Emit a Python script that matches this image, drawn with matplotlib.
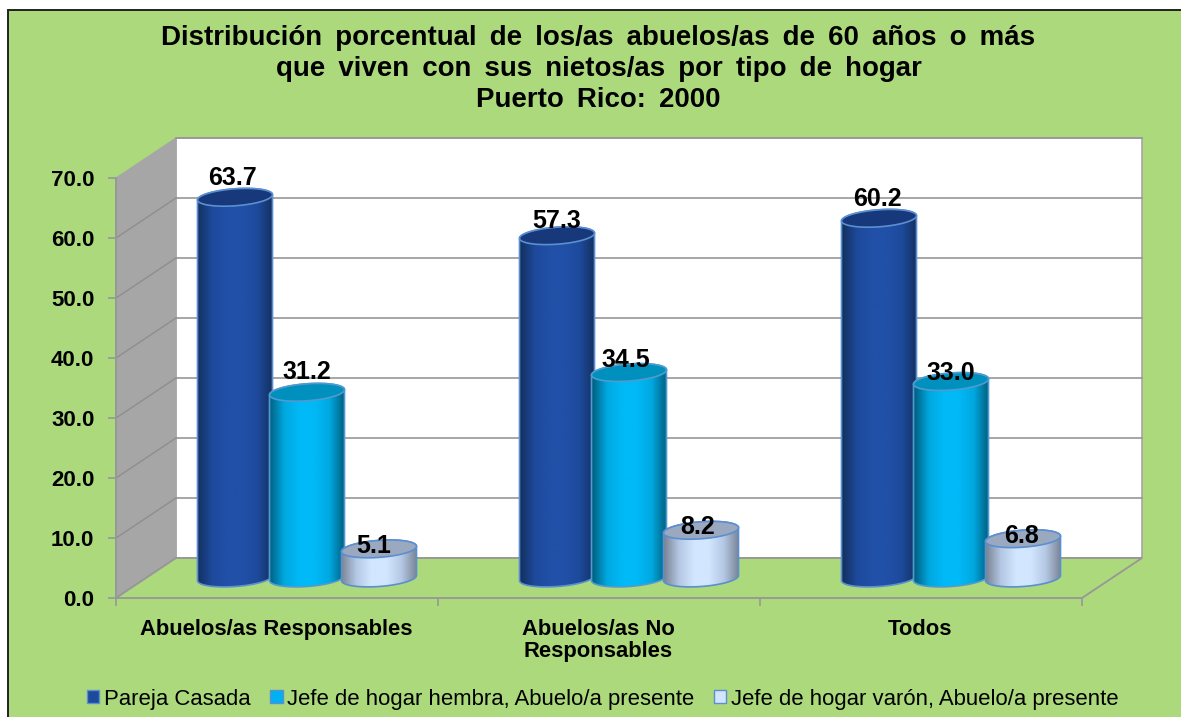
import numpy as np
import matplotlib
matplotlib.use('Agg')
import matplotlib.pyplot as plt
from matplotlib.colors import LinearSegmentedColormap
from matplotlib.patches import Polygon, PathPatch, Rectangle
from matplotlib.path import Path

plt.rcParams['font.family'] = ['Liberation Sans', 'DejaVu Sans']

title = ('Distribución \u2009porcentual \u2009de \u2009los/as \u2009abuelos/as \u2009de \u200960 \u2009años \u2009o \u2009más\n'
         'que \u2009viven \u2009con \u2009sus \u2009nietos/as \u2009por \u2009tipo \u2009de \u2009hogar\n'
         'Puerto \u2009Rico: \u20092000')
categories = ['Abuelos/as Responsables', 'Abuelos/as No\nResponsables', 'Todos']
series = ['Pareja Casada', 'Jefe de hogar hembra, Abuelo/a presente', 'Jefe de hogar varón, Abuelo/a presente']
casada = [63.7, 57.3, 60.2]
hembra = [31.2, 34.5, 33.0]
varon = [5.1, 8.2, 6.8]
ticks = [0, 10, 20, 30, 40, 50, 60, 70]

# label nudges in pixels from the middle of each cylinder top
nudge_x = [[-2, 0, -5], [0, -3, -3], [-2, 0, -1]]
nudge_y = [[19, 20, 3], [15, 12.5, 3], [19, 8.5, 3]]

W, H = 1181, 717
GREEN = '#ABD97B'
GRID = '#979797'
LEFT, RIGHT, BOTTOM, TOP = 116, 1082, 598, 178
PX_X = (RIGHT - LEFT) / 3
PX_Y = (BOTTOM - TOP) / 70
DEPTH_X = 60 / PX_X
DEPTH_Y = 40 / PX_Y

fig = plt.figure(figsize=(W / 100, H / 100), dpi=100, facecolor='white')
fig.add_artist(Rectangle((7.5 / W, -0.01), 1.02, 1 - 9.5 / H + 0.01, transform=fig.transFigure,
                         fc=GREEN, ec='#222222', lw=1.4, zorder=-1))
ax = fig.add_axes([LEFT / W, 1 - BOTTOM / H, (RIGHT - LEFT) / W, (BOTTOM - TOP) / H])
ax.set_xlim(0, 3)
ax.set_ylim(0, 70)
ax.patch.set_visible(False)
for s in ax.spines.values():
    s.set_visible(False)

# walls
ax.add_patch(Polygon([(DEPTH_X, DEPTH_Y), (3 + DEPTH_X, DEPTH_Y), (3 + DEPTH_X, 70 + DEPTH_Y), (DEPTH_X, 70 + DEPTH_Y)],
                     fc='white', ec='#A6A6A6', lw=1.2, clip_on=False, zorder=1))
ax.add_patch(Polygon([(0, 0), (DEPTH_X, DEPTH_Y), (DEPTH_X, 70 + DEPTH_Y), (0, 70)],
                     fc='#A6A6A6', ec='#A6A6A6', lw=0.8, clip_on=False, zorder=1))
ax.add_patch(Polygon([(0, 0), (3, 0), (3 + DEPTH_X, DEPTH_Y), (DEPTH_X, DEPTH_Y)],
                     fc=GREEN, ec=GRID, lw=1.3, clip_on=False, zorder=1.5))
for t in ticks:
    if t > 0:
        ax.plot([DEPTH_X, 3 + DEPTH_X], [t + DEPTH_Y, t + DEPTH_Y], color=GRID, lw=1.2, clip_on=False, zorder=1.2)
    if t < 70:
        ax.plot([0, DEPTH_X], [t, t + DEPTH_Y], color='#8E8E8E', lw=1, clip_on=False, zorder=1.3)
ax.plot([0, 0], [0, 70], color=GRID, lw=1.3, clip_on=False, zorder=1.4)

ax.set_yticks(ticks)
ax.set_yticklabels(['%.1f' % t for t in ticks], fontsize=16, fontweight='bold')
ax.set_xticks([0, 1, 2, 3])
ax.set_xticklabels([])
ax.tick_params(axis='both', color=GRID, width=1.2, length=5.5, pad=10)
ax.set_axisbelow(False)
for i, c in enumerate(categories):
    ax.annotate(c, (i + 0.5, 0), xytext=(-1, -21), textcoords='offset pixels', ha='center', va='top',
                fontsize=15.8, fontweight='bold', linespacing=1.08)


def shade(light, mid, dark):
    return LinearSegmentedColormap.from_list('c', [dark, mid, light, light, mid, dark])


def ellipse(xc, yc, t):
    # a little tilted, right side up
    a = 37.5 / PX_X
    px = 37.5 * np.cos(t)
    return xc + a * np.cos(t), yc + (8.5 * np.sin(t) + 0.07 * px) / PX_Y


def cylinder(xc, val, cmap, top_color, edge, z):
    y0 = DEPTH_Y / 2
    y1 = y0 + val - 1.5 / PX_Y
    lo = np.linspace(np.pi, 2 * np.pi, 40)
    hi = np.linspace(0, np.pi, 40)
    x_a, y_a = ellipse(xc, y0, lo)
    x_b, y_b = ellipse(xc, y1, hi)
    body = np.column_stack([np.r_[x_a, x_b], np.r_[y_a, y_b]])
    patch = PathPatch(Path(np.vstack([body, body[0]])), fc='none', ec=edge, lw=1.2, clip_on=False, zorder=z + 0.2)
    ax.add_patch(patch)
    a = 37.5 / PX_X
    grad = np.linspace(0, 1, 200).reshape(1, -1)
    im = ax.imshow(grad, extent=[xc - a, xc + a, y0 - 3, y1 + 3], aspect='auto', cmap=cmap, zorder=z, clip_on=True)
    im.set_clip_path(PathPatch(Path(np.vstack([body, body[0]])), transform=ax.transData))
    tt = np.linspace(0, 2 * np.pi, 80)
    x_t, y_t = ellipse(xc, y1, tt)
    ax.fill(x_t, y_t, fc=top_color, ec=edge, lw=1.2, clip_on=False, zorder=z + 0.3)
    return y1


styles = [
    (shade('#2150A8', '#1E4A9C', '#13305F'), '#17387A', '#5B8FD0'),
    (shade('#00B9F7', '#00A8E0', '#005F80'), '#0090BE', '#4F9BD0'),
    (shade('#D2E6FF', '#B4C8E4', '#7A8494'), '#9AA9BF', '#5B8FD0'),
]
values = [casada, hembra, varon]
for g in range(3):
    for s in range(3):
        xc = g + 0.5 + DEPTH_X / 2 + (s - 1) * 72 / PX_X
        v = values[s][g]
        y_top = cylinder(xc, v, styles[s][0], styles[s][1], styles[s][2], 3 + s)
        ax.annotate('%.1f' % v, (xc, y_top), xytext=(nudge_x[g][s], nudge_y[g][s]), textcoords='offset pixels',
                    ha='center', va='center', fontsize=18, fontweight='bold', zorder=10, annotation_clip=False)
ax.set_xlim(0, 3)
ax.set_ylim(0, 70)

fig.text(598.5 / W, 1 - 69 / H, title, ha='center', va='center', fontsize=19.9, fontweight='bold', linespacing=1.25)

handles = [Rectangle((0, 0), 1, 1, fc=c, ec='#5B8FD0', lw=1) for c in ['#1E4A9C', '#00B0F0', '#D2E6FF']]
fig.legend(handles, series, ncol=3, frameon=False, loc='center', bbox_to_anchor=(603 / W, 1 - 699 / H),
           fontsize=15.9, handlelength=0.55, handleheight=0.55, handletextpad=0.22, columnspacing=0.88, borderpad=0)

fig.savefig('out.png', dpi=100, facecolor=fig.get_facecolor())
